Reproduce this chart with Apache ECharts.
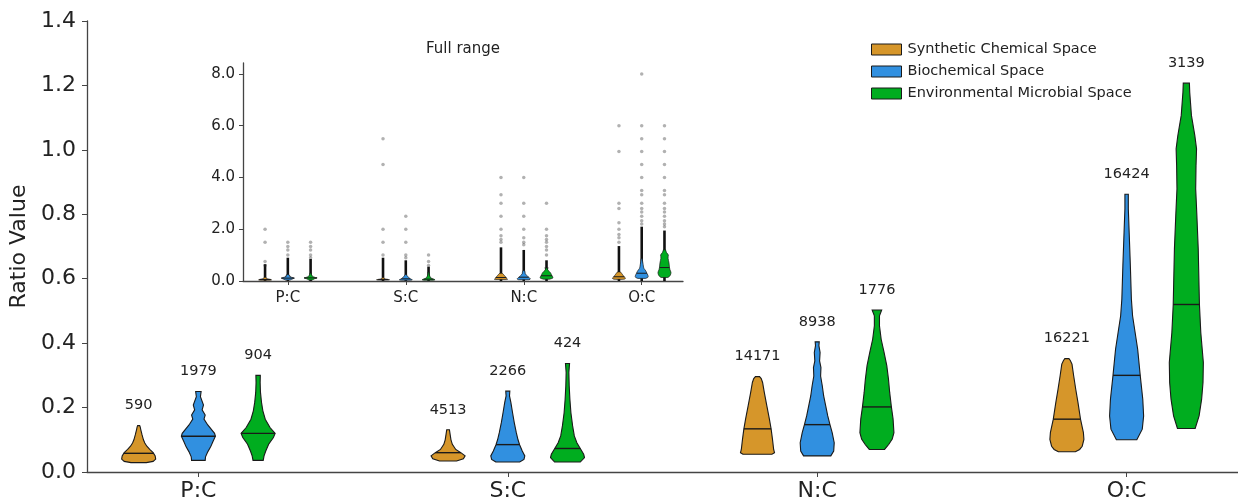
<!DOCTYPE html>
<html lang="en">
<head>
    <meta charset="UTF-8">
    <title>Ratio Value violins</title>
    <script src="https://cdn.jsdelivr.net/npm/echarts@6.0.0/dist/echarts.min.js"></script>
    <style>
        html, body { margin: 0; padding: 0; background: #fff; }
        #main { width: 1238px; height: 502px; }
    </style>
</head>
<body>
    <div id="main"></div>
    <script>
        // categories and groups
        var categories = ['P:C', 'S:C', 'N:C', 'O:C'];
        var groups = ['Synthetic Chemical Space', 'Biochemical Space', 'Environmental Microbial Space'];
        var colors = ['#D6962A', '#3190E0', '#00AD1F'];

        // number of compounds above each violin [category][group]
        var counts = [[590, 1979, 904], [4513, 2266, 424], [14171, 8938, 1776], [16221, 16424, 3139]];
        // median line of each violin [category][group]
        var medians = [[0.058, 0.111, 0.12], [0.06, 0.085, 0.073], [0.134, 0.147, 0.202], [0.164, 0.30, 0.52]];

        // violin outlines, bottom to top: [value, relative half width]
        var shapeSynthetic = [
            [[0.029, 0.45], [0.033, 0.85], [0.04, 1.0], [0.05, 0.97], [0.06, 0.85], [0.07, 0.65], [0.08, 0.48], [0.09, 0.36], [0.1, 0.28], [0.115, 0.2], [0.13, 0.13], [0.14, 0.09], [0.144, 0.06]],
            [[0.034, 0.5], [0.041, 0.9], [0.05, 1.0], [0.06, 0.75], [0.07, 0.45], [0.086, 0.25], [0.1, 0.17], [0.117, 0.12], [0.131, 0.08]],
            [[0.055, 0.85], [0.06, 1.0], [0.07, 0.95], [0.102, 0.88], [0.134, 0.8], [0.164, 0.7], [0.205, 0.55], [0.247, 0.4], [0.278, 0.3], [0.29, 0.22], [0.296, 0.12]],
            [[0.063, 0.5], [0.07, 0.75], [0.08, 0.9], [0.101, 1.0], [0.122, 0.97], [0.164, 0.8], [0.216, 0.65], [0.257, 0.52], [0.298, 0.4], [0.335, 0.3], [0.346, 0.2], [0.352, 0.12]]
        ];
        var shapeBio = [
            [[0.036, 0.4], [0.047, 0.42], [0.0625, 0.55], [0.078, 0.72], [0.094, 0.85], [0.111, 1.0], [0.12, 0.95], [0.146, 0.55], [0.164, 0.33], [0.177, 0.4], [0.193, 0.22], [0.208, 0.3], [0.234, 0.12], [0.25, 0.16]],
            [[0.031, 0.7], [0.039, 0.95], [0.05, 1.0], [0.065, 0.85], [0.084, 0.7], [0.1, 0.6], [0.122, 0.5], [0.153, 0.38], [0.184, 0.28], [0.216, 0.18], [0.236, 0.1], [0.251, 0.12]],
            [[0.05, 0.8], [0.065, 0.97], [0.091, 1.0], [0.122, 0.88], [0.147, 0.75], [0.174, 0.62], [0.205, 0.5], [0.236, 0.38], [0.267, 0.3], [0.298, 0.2], [0.324, 0.22], [0.345, 0.14], [0.371, 0.17], [0.392, 0.1], [0.404, 0.12]],
            [[0.10, 0.6], [0.133, 0.92], [0.174, 1.0], [0.226, 0.95], [0.30, 0.8], [0.381, 0.65], [0.433, 0.5], [0.485, 0.35], [0.537, 0.28], [0.64, 0.22], [0.744, 0.15], [0.817, 0.1], [0.862, 0.1]]
        ];
        var shapeEnv = [
            [[0.036, 0.3], [0.05, 0.35], [0.065, 0.45], [0.086, 0.62], [0.107, 0.9], [0.12, 1.0], [0.138, 0.7], [0.164, 0.42], [0.19, 0.28], [0.216, 0.2], [0.247, 0.14], [0.278, 0.12], [0.30, 0.13]],
            [[0.031, 0.75], [0.045, 1.0], [0.055, 0.95], [0.073, 0.75], [0.091, 0.55], [0.112, 0.4], [0.143, 0.3], [0.184, 0.2], [0.226, 0.14], [0.267, 0.1], [0.309, 0.08], [0.337, 0.12]],
            [[0.07, 0.45], [0.086, 0.7], [0.102, 0.9], [0.122, 1.0], [0.164, 0.95], [0.202, 0.85], [0.247, 0.75], [0.288, 0.68], [0.33, 0.58], [0.371, 0.42], [0.412, 0.25], [0.454, 0.15], [0.485, 0.15], [0.503, 0.28]],
            [[0.135, 0.52], [0.174, 0.75], [0.226, 0.9], [0.278, 0.98], [0.34, 1.0], [0.433, 0.85], [0.52, 0.77], [0.692, 0.7], [0.796, 0.62], [0.879, 0.55], [0.951, 0.57], [1.003, 0.6], [1.044, 0.5], [1.107, 0.3], [1.179, 0.2], [1.207, 0.18]]
        ];

        // inset: scattered outlier values and top of the dense outlier column
        var outliersSynthetic = [[2.0, 1.5, 0.75, 0.6], [5.5, 4.5, 2.0, 1.5, 1.0], [4.0, 3.33, 3.0, 2.5, 2.0, 1.75, 1.6, 1.5], [6.0, 5.0, 3.0, 2.8, 2.25, 2.0, 1.8, 1.67, 1.5]];
        var outliersBio = [[1.5, 1.33, 1.2, 1.0], [2.5, 2.0, 1.5, 1.0, 0.9], [4.0, 3.0, 2.5, 2.0, 1.67, 1.5, 1.4], [8.0, 6.0, 5.5, 5.0, 4.5, 4.0, 3.5, 3.33, 3.0, 2.8, 2.67, 2.5, 2.33, 2.2]];
        var outliersEnv = [[1.5, 1.33, 1.2, 1.0, 0.9], [1.0, 0.75, 0.6], [3.0, 2.0, 1.75, 1.6, 1.5, 1.33, 1.2, 1.0], [6.0, 5.5, 5.0, 4.5, 4.0, 3.5, 3.33, 3.0, 2.8, 2.67, 2.5, 2.33, 2.2, 2.1]];
        var denseTopSynthetic = [0.65, 0.9, 1.3, 1.35];
        var denseTopBio = [0.9, 0.8, 1.2, 2.1];
        var denseTopEnv = [0.85, 0.55, 0.8, 1.95];

        var shapes = [shapeSynthetic, shapeBio, shapeEnv];
        var outliers = [outliersSynthetic, outliersBio, outliersEnv];
        var denseTops = [denseTopSynthetic, denseTopBio, denseTopEnv];
        var offsets = [-0.193, 0, 0.193];
        var halfWidth = 0.055;
        var FONT = 'DejaVu Sans, sans-serif';

        function widthAt(shape, v) {
            for (var i = 1; i < shape.length; i++) {
                if (v <= shape[i][0]) {
                    var a = shape[i - 1], b = shape[i];
                    var t = (v - a[0]) / (b[0] - a[0]);
                    return a[1] + (b[1] - a[1]) * t;
                }
            }
            return shape[shape.length - 1][1];
        }

        function violinRender(gi, withLabel, lw) {
            return function (params, api) {
                var ci = api.value(0);
                var shape = shapes[gi][ci];
                var cx = ci + offsets[gi];
                var left = [], right = [];
                shape.forEach(function (p) {
                    left.push(api.coord([cx - p[1] * halfWidth, p[0]]));
                    right.unshift(api.coord([cx + p[1] * halfWidth, p[0]]));
                });
                var med = medians[ci][gi];
                var mw = widthAt(shape, med) * halfWidth;
                var m1 = api.coord([cx - mw, med]);
                var m2 = api.coord([cx + mw, med]);
                var children = [
                    { type: 'polygon', shape: { points: left.concat(right) },
                      style: { fill: colors[gi], stroke: '#1a1a1a', lineWidth: lw } },
                    { type: 'line', shape: { x1: m1[0], y1: m1[1], x2: m2[0], y2: m2[1] },
                      style: { stroke: '#1a1a1a', lineWidth: lw + 0.3 } }
                ];
                if (withLabel) {
                    var top = api.coord([cx, shape[shape.length - 1][0]]);
                    children.push({ type: 'text', x: top[0], y: top[1] - 20,
                        style: { text: String(counts[ci][gi]), align: 'center', verticalAlign: 'middle',
                                 font: '14.5px ' + FONT, fill: '#222' } });
                }
                return { type: 'group', children: children };
            };
        }

        var series = [];
        groups.forEach(function (g, gi) {
            series.push({
                name: g, type: 'custom', xAxisIndex: 0, yAxisIndex: 0, z: 5,
                itemStyle: { color: colors[gi] },
                renderItem: violinRender(gi, true, 1.1),
                encode: { x: 0, y: 1 },
                data: categories.map(function (c, ci) { return [ci, medians[ci][gi]]; })
            });
        });

        // inset: dense outlier columns, scattered outliers, small violins
        groups.forEach(function (g, gi) {
            series.push({
                name: g, type: 'custom', xAxisIndex: 1, yAxisIndex: 1, z: 3,
                itemStyle: { color: colors[gi] },
                renderItem: function (params, api) {
                    var ci = api.value(0);
                    var cx = ci + offsets[gi];
                    var p1 = api.coord([cx, 0]);
                    var p2 = api.coord([cx, denseTops[gi][ci]]);
                    return { type: 'line', shape: { x1: p1[0], y1: p1[1], x2: p2[0], y2: p2[1] },
                             style: { stroke: '#111', lineWidth: 2.6 } };
                },
                encode: { x: 0, y: 1 },
                data: categories.map(function (c, ci) { return [ci, denseTops[gi][ci]]; })
            });
            var pts = [];
            outliers[gi].forEach(function (list, ci) {
                list.forEach(function (v) { pts.push([ci + offsets[gi], v]); });
            });
            series.push({
                name: g, type: 'scatter', xAxisIndex: 1, yAxisIndex: 1, z: 3,
                symbolSize: 3.5, itemStyle: { color: 'rgba(40,40,40,0.45)' },
                data: pts, silent: true
            });
            series.push({
                name: g, type: 'custom', xAxisIndex: 1, yAxisIndex: 1, z: 4,
                itemStyle: { color: colors[gi] },
                renderItem: violinRender(gi, false, 0.7),
                encode: { x: 0, y: 1 },
                data: categories.map(function (c, ci) { return [ci, medians[ci][gi]]; })
            });
        });

        var axisLineStyle = { onZero: false, lineStyle: { color: '#444', width: 1.3 } };
        function catLabel(v) { return categories[Math.round(v)] || ''; }

        var chart = echarts.init(document.getElementById('main'));
        var option = {
            animation: false,
            backgroundColor: '#fff',
            textStyle: { fontFamily: FONT },
            graphic: [{
                type: 'text', x: 463, y: 49,
                style: { text: 'Full range', align: 'center', verticalAlign: 'middle', textAlign: 'center',
                         textVerticalAlign: 'middle', font: '15px ' + FONT, fill: '#222' }
            }],
            legend: {
                orient: 'vertical', left: 866, top: 37,
                itemWidth: 30, itemHeight: 11, itemGap: 7, icon: 'rect',
                itemStyle: { borderColor: '#1a1a1a', borderWidth: 1 },
                textStyle: { fontSize: 14.5, color: '#222', fontFamily: FONT, padding: [0, 0, 0, 1] },
                data: groups
            },
            grid: [
                { left: 87, right: 0, top: 21, bottom: 30 },
                { left: 243, right: 555, top: 63, bottom: 221 }
            ],
            xAxis: [
                { gridIndex: 0, type: 'value', min: -0.36, max: 3.36,
                  axisLine: axisLineStyle, splitLine: { show: false },
                  axisTick: { length: 5, customValues: [0, 1, 2, 3], lineStyle: { color: '#444' } },
                  axisLabel: { customValues: [0, 1, 2, 3], formatter: catLabel, fontSize: 22, color: '#222', margin: 8 } },
                { gridIndex: 1, type: 'value', min: -0.38, max: 3.35,
                  axisLine: axisLineStyle, splitLine: { show: false },
                  axisTick: { length: 4, customValues: [0, 1, 2, 3], lineStyle: { color: '#444' } },
                  axisLabel: { customValues: [0, 1, 2, 3], formatter: catLabel, fontSize: 15, color: '#222', margin: 10 } }
            ],
            yAxis: [
                { gridIndex: 0, type: 'value', min: 0, max: 1.4, interval: 0.2,
                  name: 'Ratio Value', nameLocation: 'middle', nameGap: 55, nameRotate: 90,
                  nameTextStyle: { fontSize: 22, color: '#222' },
                  axisLine: { show: true, onZero: false, lineStyle: { color: '#444', width: 1.3 } }, splitLine: { show: false },
                  axisTick: { show: true, length: 5, lineStyle: { color: '#444' } },
                  axisLabel: { formatter: function (v) { return v.toFixed(1); }, fontSize: 22, color: '#222', margin: 11 } },
                { gridIndex: 1, type: 'value', min: 0, max: 8.425,
                  axisLine: { show: true, onZero: false, lineStyle: { color: '#444', width: 1.3 } }, splitLine: { show: false },
                  axisTick: { show: true, length: 4, customValues: [0, 2, 4, 6, 8], lineStyle: { color: '#444' } },
                  axisLabel: { customValues: [0, 2, 4, 6, 8], formatter: function (v) { return v.toFixed(1); },
                               fontSize: 15, color: '#222', margin: 8 } }
            ],
            series: series
        };
        chart.setOption(option);
    </script>
</body>
</html>
